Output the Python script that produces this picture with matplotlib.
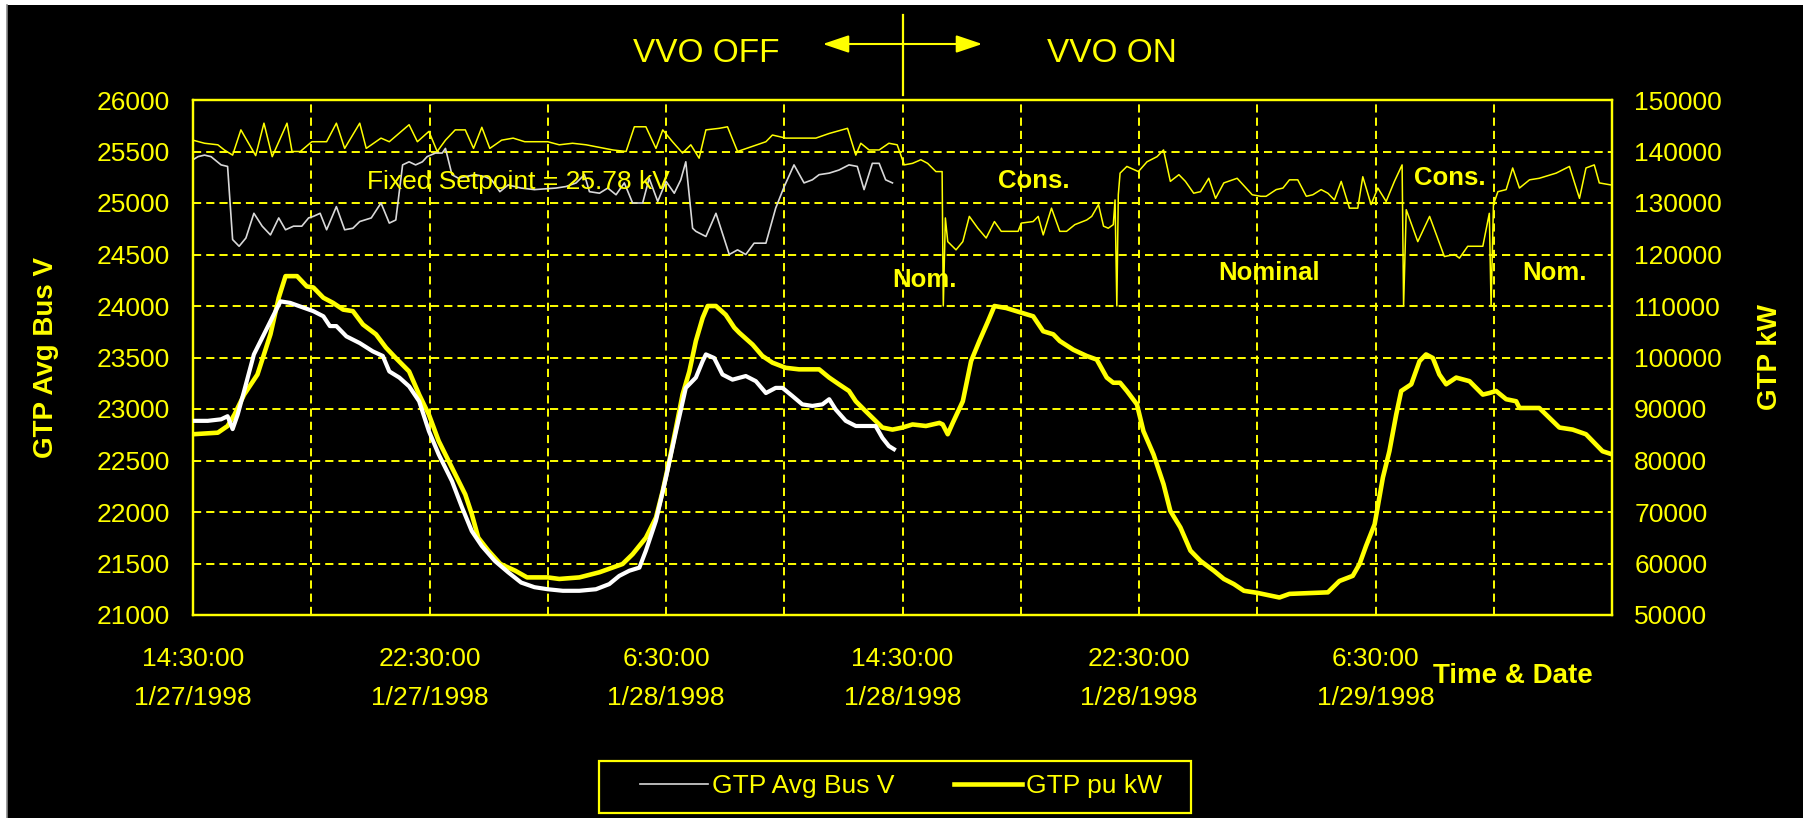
import matplotlib
matplotlib.use("Agg")
import matplotlib.pyplot as plt
from matplotlib.patches import Rectangle, FancyArrowPatch
from matplotlib.lines import Line2D

W, H, DPI = 1803, 818, 100
plt.rcParams['font.family'] = ['Liberation Sans', 'DejaVu Sans']
YEL = '#FFFF00'

# ---------------- data ----------------
x_tick_hours = [0, 8, 16, 24, 32, 40]
x_tick_labels = ['14:30:00\n1/27/1998', '22:30:00\n1/27/1998', '6:30:00\n1/28/1998',
                 '14:30:00\n1/28/1998', '22:30:00\n1/28/1998', '6:30:00\n1/29/1998']
volt_ticks = list(range(21000, 26001, 500))
kw_ticks = list(range(50000, 150001, 10000))

# GTP pu kW (thick yellow, 48 h)
kw_hours = [0.0, 0.84, 1.17, 1.40, 1.73, 2.18, 2.62, 2.90, 3.13, 3.52, 3.85, 4.07, 4.41, 4.74, 5.08, 5.41,
            5.75, 6.19, 6.53, 6.86, 7.31, 7.65, 7.98, 8.31, 8.76, 9.21, 9.43, 9.65, 9.99, 10.4, 10.9, 11.3, 12.0,
            12.39, 13.07, 13.75, 14.53, 14.87, 15.32, 15.66, 15.89, 16.11, 16.34, 16.56, 16.79, 17.01, 17.24,
            17.41, 17.69, 18.02, 18.31, 18.48, 18.93, 19.26, 19.60, 20.05, 20.50, 21.18, 21.52, 21.85, 22.19,
            22.42, 22.75, 23.09, 23.32, 23.66, 24.0,
            24.34, 24.79, 25.25, 25.36, 25.53, 25.70, 26.04, 26.32, 26.60, 26.89, 27.11, 27.51, 27.85, 28.42,
            28.76, 29.10, 29.32, 29.78, 30.23, 30.57, 30.91, 31.13, 31.36, 31.59, 31.93, 32.15, 32.49, 32.83,
            33.06, 33.40, 33.74, 34.08, 34.53, 34.87, 35.21, 35.55, 36.0,
            36.75, 37.09, 37.99, 38.39, 38.78, 39.23, 39.46, 39.68, 39.97, 40.25, 40.47, 40.70, 40.87, 41.21,
            41.49, 41.71, 41.94, 42.16, 42.39, 42.73, 43.18, 43.63, 43.85, 44.08, 44.42, 44.76, 44.87, 45.54,
            45.88, 46.22, 46.67, 47.12, 47.46, 47.68, 48.0]
kw_values = [85100, 85400, 86700, 88900, 92800, 96700, 104500, 111600, 115800, 115800, 113800, 113600, 111600,
             110600, 109300, 109000, 106400, 104500, 101900, 99900, 97300, 92800, 88900, 83800, 78600, 73400,
             69600, 65000, 62500, 59900, 58600, 57300, 57300,
             57000, 57300, 58300, 59900, 61800, 65000, 68900, 74100, 79900, 86400, 92800, 97300, 103200, 107700,
             110000, 110000, 108300, 105800, 104800, 102500, 100300, 99000, 98000, 97700, 97700, 96100, 94800,
             93500, 91500, 89600, 87700, 86400, 86000, 86400,
             87000, 86700, 87300, 87000, 85100, 87300, 91500, 99300, 103200, 107000, 110000, 109600, 109000,
             108000, 105100, 104500, 103200, 101500, 100300, 99600, 96100, 95100, 95100, 93500, 90900, 85700,
             81200, 75400, 70200, 67000, 62500, 60500, 58600, 57000, 56000, 54700, 54300,
             53400, 54100, 54300, 54400, 56600, 57600, 59900, 63400, 67600, 76700, 81800, 88900, 93500, 94800,
             99300, 100600, 99900, 96700, 94800, 96100, 95400, 92800, 93100, 93500, 91900, 91500, 90200, 90200,
             88300, 86400, 86000, 85100, 83100, 81800, 81200]

# kW overlay (thick white, first 24 h)
kw_overlay_hours = [0.0, 0.50, 0.95, 1.17, 1.34, 1.51, 1.73, 2.06, 2.40, 2.73, 2.96, 3.29, 3.63, 4.07, 4.41,
                    4.63, 4.85, 5.19, 5.64, 6.08, 6.42, 6.64, 6.98, 7.31, 7.65, 7.98, 8.31, 8.76, 9.10, 9.43,
                    9.77, 10.21, 10.66, 11.10, 11.55, 12.0,
                    12.51, 13.07, 13.63, 14.08, 14.42, 14.76, 15.10, 15.32, 15.66, 16.00, 16.34, 16.67, 17.01,
                    17.24, 17.35, 17.63, 17.91, 18.25, 18.70, 19.04, 19.38, 19.71, 19.94, 20.28, 20.61, 20.95,
                    21.29, 21.52, 21.74, 22.08, 22.42, 23.09, 23.32, 23.54, 23.71]
kw_overlay_values = [87700, 87700, 88000, 88600, 86100, 88900, 93500, 100600, 104500, 108300, 110900, 110600,
                     109900, 109000, 108000, 106100, 106100, 104100, 102800, 101200, 100300, 97300, 96100,
                     94400, 91500, 85700, 81200, 76000, 70900, 66300, 63400, 60500, 58300, 56300, 55400, 55000,
                     54700, 54700, 55000, 56000, 57600, 58600, 59200, 62500, 68300, 76700, 85700, 94100, 96100,
                     99300, 100600, 99900, 96700, 95700, 96400, 95400, 93100, 94100, 94100, 92500, 90900, 90600,
                     90900, 91900, 89900, 87700, 86700, 86700, 84400, 82800, 82200]

# GTP Avg Bus V (thin yellow, 48 h)
busv_hours = [0.00, 0.39, 0.84, 1.06, 1.34, 1.62, 2.12, 2.40, 2.68, 3.18, 3.35, 3.63, 4.02, 4.52, 4.85, 5.13,
              5.64, 5.86, 6.36, 6.64, 7.31, 7.59, 7.98, 8.26, 8.54, 8.87, 9.21, 9.49, 9.77, 10.04, 10.44, 10.83,
              11.22, 12.00,
              12.39, 12.84, 13.30, 13.75, 14.20, 14.65, 14.93, 15.32, 15.66, 15.89, 16.22, 16.56, 16.84, 17.12,
              17.35, 17.80, 18.08, 18.42, 18.93, 19.38, 19.60, 20.05, 20.50, 21.07, 21.52, 22.14, 22.42, 22.59,
              22.87, 23.21, 23.54, 23.82, 24.06,
              24.34, 24.62, 24.85, 25.13, 25.34, 25.38, 25.45, 25.53, 25.81, 26.04, 26.26, 26.55, 26.83, 27.11,
              27.34, 27.91, 28.02, 28.42, 28.59, 28.76, 29.04, 29.32, 29.55, 29.83, 30.23, 30.40, 30.63, 30.80,
              30.96, 31.13, 31.19, 31.25, 31.30, 31.36, 31.59, 31.98, 32.27, 32.61, 32.83, 33.06, 33.35, 33.57,
              33.85, 34.08, 34.36, 34.59, 34.87, 35.32, 35.83, 36.12,
              36.30, 36.64, 36.87, 37.09, 37.37, 37.66, 37.88, 38.16, 38.39, 38.61, 38.84, 39.12, 39.40, 39.57,
              39.85, 40.08, 40.36, 40.64, 40.90, 40.95, 41.04, 41.43, 41.83, 42.33, 42.67, 42.84, 43.12, 43.63,
              43.85, 43.91, 43.99, 44.14, 44.42, 44.64, 44.87, 45.21, 45.54, 46.11, 46.56, 46.90, 47.12, 47.40,
              47.57, 47.97]
busv_values = [25610, 25580, 25565, 25515, 25465, 25710, 25460, 25775, 25450, 25775, 25500, 25500, 25595, 25595,
               25775, 25530, 25775, 25530, 25630, 25595, 25760, 25595, 25695, 25500, 25610, 25710, 25710, 25530,
               25735, 25530, 25610, 25630, 25595, 25595,
               25565, 25580, 25565, 25540, 25515, 25500, 25740, 25740, 25530, 25710, 25595, 25485, 25565, 25435,
               25710, 25725, 25740, 25500, 25550, 25595, 25660, 25630, 25630, 25630, 25675, 25725, 25465, 25580,
               25515, 25515, 25580, 25565, 25370,
               25385, 25420, 25385, 25305, 25305, 24000, 24855, 24625, 24545, 24625, 24870, 24755, 24660, 24820,
               24725, 24725, 24805, 24820, 24870, 24690, 24950, 24725, 24725, 24790, 24835, 24870, 24985, 24775,
               24755, 24790, 25030, 24000, 25080, 25290, 25355, 25305, 25400, 25450, 25515, 25210, 25275, 25210,
               25095, 25110, 25240, 25045, 25195, 25240, 25080, 25065,
               25065, 25130, 25145, 25225, 25225, 25065, 25080, 25130, 25095, 25030, 25210, 24950, 24950, 25255,
               24985, 25145, 25015, 25210, 25370, 24000, 24935, 24625, 24870, 24480, 24500, 24465, 24580, 24580,
               24900, 24000, 24985, 25110, 25130, 25340, 25145, 25225, 25240, 25290, 25355, 25045, 25340, 25370,
               25195, 25175]

# Bus V overlay (thin white, first 24 h)
busv_overlay_hours = [0.00, 0.17, 0.39, 0.61, 0.95, 1.17, 1.34, 1.56, 1.79, 2.06, 2.34, 2.62, 2.90, 3.13, 3.40,
                      3.68, 3.91, 4.07, 4.30, 4.52, 4.85, 5.13, 5.41, 5.64, 6.03, 6.36, 6.64, 6.86, 7.09, 7.31,
                      7.53, 7.76, 7.92, 8.20, 8.43, 8.54, 8.76, 8.98, 9.21, 9.54, 9.88, 10.10, 10.38, 10.66,
                      11.10, 11.55, 12.28, 12.62, 12.96, 13.24, 13.41, 13.75, 14.03, 14.31, 14.59, 14.87, 15.21,
                      15.43, 15.72, 16.00, 16.28, 16.50, 16.67, 16.90, 17.01, 17.35, 17.69, 18.14, 18.42, 18.70,
                      18.98, 19.38, 19.71, 20.00, 20.33, 20.67, 20.95, 21.18, 21.52, 21.85, 22.19, 22.47, 22.70,
                      22.98, 23.21, 23.43, 23.66]
busv_overlay_values = [25420, 25450, 25465, 25450, 25370, 25355, 24645, 24580, 24660, 24900, 24775, 24690, 24855,
                       24740, 24775, 24775, 24855, 24870, 24900, 24740, 24965, 24740, 24755, 24820, 24855, 25000,
                       24805, 24835, 25370, 25400, 25370, 25400, 25450, 25485, 25485, 25530, 25275, 25240, 25255,
                       25275, 25255, 25225, 25110, 25175, 25145, 25130, 25145, 25160, 25195, 25275, 25110, 25095,
                       25145, 25080, 25195, 25000, 25000, 25240, 25015, 25210, 25095, 25225, 25400, 24755, 24725,
                       24675, 24900, 24500, 24545, 24500, 24610, 24610, 24950, 25160, 25370, 25195, 25225, 25275,
                       25290, 25320, 25370, 25355, 25130, 25385, 25385, 25225, 25195]

# ---------------- figure ----------------
fig = plt.figure(figsize=(W / DPI, H / DPI), dpi=DPI, facecolor='white')
fig.patches.append(Rectangle((7 / W, 0), 1 - 7 / W, 1 - 5 / H, transform=fig.transFigure,
                             facecolor='black', edgecolor='none', zorder=-10))
fig.add_artist(Line2D([7 / W, 7 / W], [0, 1 - 5 / H], transform=fig.transFigure, color='#8a8a8a', lw=1.2))

ax = fig.add_axes([193 / W, 1 - 615 / H, 1419 / W, 515 / H])
ax.set_facecolor('black')
ax.set_xlim(0, 48)
ax.set_ylim(21000, 26000)
ax2 = ax.twinx()
ax2.set_ylim(50000, 150000)

for a in (ax, ax2):
    for sp in a.spines.values():
        sp.set_color(YEL)
        sp.set_linewidth(1.6)

ax.set_xticks(list(range(0, 49, 4)))
lab = {h: l for h, l in zip(x_tick_hours, x_tick_labels)}
ax.set_xticklabels([lab.get(h, '') for h in range(0, 49, 4)])
ax.set_yticks(volt_ticks)
ax.set_yticklabels([str(v) for v in volt_ticks])
ax2.set_yticks(kw_ticks)
ax2.set_yticklabels([str(v) for v in kw_ticks])

ax.tick_params(axis='both', length=0, labelsize=19, labelcolor=YEL)
ax.tick_params(axis='y', pad=16.5)
ax.tick_params(axis='x', pad=23.3)
ax2.tick_params(axis='y', length=0, labelsize=19, labelcolor=YEL, pad=16)
for t in ax.get_xticklabels():
    t.set_linespacing(1.76)

ax.grid(True, color=YEL, lw=1.4, linestyle=(0, (4.2, 2.6)))
ax.set_axisbelow(True)

# lines
ax.plot(busv_hours, busv_values, color=YEL, lw=1.1, zorder=3)
ln_v, = ax.plot(busv_overlay_hours, busv_overlay_values, color='#d8d8d8', lw=1.2, zorder=3)
ln_kw, = ax2.plot(kw_hours, kw_values, color=YEL, lw=3.3, zorder=3)
ax2.plot(kw_overlay_hours, kw_overlay_values, color='white', lw=3.0, zorder=4)

# axis labels
ax.set_ylabel('GTP Avg Bus V', fontsize=20, fontweight='bold', color=YEL, va='center')
ax.yaxis.set_label_coords((46 - 193) / 1419, 0.5)
ax2.set_ylabel('GTP kW', fontsize=20, fontweight='bold', color=YEL, va='center', rotation=90)
ax2.yaxis.set_label_coords((1770 - 193) / 1419, 0.5)

fig.text(1513 / W, 1 - 683 / H, 'Time & Date', fontsize=20, fontweight='bold', color=YEL,
         ha='center', va='baseline')

# annotations inside the plot (axes fractions)
def axpos(px, py):
    return (px - 193) / 1419, (615 - py) / 515

ax.text(*axpos(518, 189), 'Fixed Setpoint = 25.78 kV', transform=ax.transAxes, fontsize=19,
        color=YEL, ha='center', va='baseline', zorder=5)
for txt, px, py in [('Cons.', 1034, 188), ('Nom.', 924, 287), ('Nominal', 1269, 280),
                    ('Cons.', 1450, 185), ('Nom.', 1555, 280)]:
    ax.text(*axpos(px, py), txt, transform=ax.transAxes, fontsize=18.5, fontweight='bold',
            color=YEL, ha='center', va='baseline', zorder=5)

# VVO OFF / ON header
fig.text(706 / W, 1 - 62 / H, 'VVO OFF', fontsize=24, color=YEL, ha='center', va='baseline')
fig.text(1112 / W, 1 - 62 / H, 'VVO ON', fontsize=24, color=YEL, ha='center', va='baseline')
fig.add_artist(Line2D([903 / W, 903 / W], [1 - 15 / H, 1 - 95 / H], transform=fig.transFigure,
                      color=YEL, lw=1.6))
fig.patches.append(FancyArrowPatch((820 / W, 1 - 44 / H), (985 / W, 1 - 44 / H), transform=fig.transFigure,
                                   arrowstyle='<|-|>,head_length=16,head_width=5.4', color=YEL, lw=1.5,
                                   mutation_scale=1))

# legend
fig.patches.append(Rectangle((599 / W, 1 - 813 / H), 592 / W, 52 / H, transform=fig.transFigure,
                             facecolor='black', edgecolor=YEL, lw=1.6, zorder=5))
h_v = Line2D([], [], color='#d8d8d8', lw=1.2)
h_kw = Line2D([], [], color=YEL, lw=3.3)
leg = fig.legend([h_v, h_kw], ['GTP Avg Bus V', 'GTP pu kW'], loc='center',
                 bbox_to_anchor=(901 / W, 1 - 786 / H), frameon=False, ncol=2, fontsize=19,
                 handlelength=2.58, handletextpad=0.15, columnspacing=2.27, borderpad=0.2)
for t in leg.get_texts():
    t.set_color(YEL)
leg.set_zorder(6)

fig.savefig('out.png', dpi=DPI, facecolor=fig.get_facecolor())
